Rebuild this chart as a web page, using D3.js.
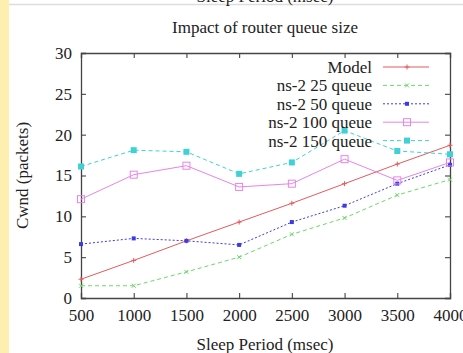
<!DOCTYPE html>
<html>
<head>
<meta charset="utf-8">
<script src="https://cdn.jsdelivr.net/npm/d3@7"></script>
<style>
  body { margin: 0; background: #fff; }
  svg text { font-family: "Liberation Serif", "DejaVu Serif", serif; fill: #222; }
</style>
</head>
<body>
<div id="chart"></div>
<script>
// sleep periods (msec)
const sleepPeriods = [500, 1000, 1500, 2000, 2500, 3000, 3500, 4000];
const yTicks = [0, 5, 10, 15, 20, 25, 30];

// cwnd values
const model    = [2.3, 4.6, 7.0, 9.3, 11.6, 14.0, 16.4, 18.7];
const queue25  = [1.5, 1.5, 3.2, 5.0, 7.8, 9.8, 12.6, 14.5];
const queue50  = [6.6, 7.3, 7.0, 6.5, 9.3, 11.3, 14.0, 16.3];
const queue100 = [12.1, 15.1, 16.2, 13.6, 14.0, 17.0, 14.4, 16.6];
const queue150 = [16.1, 18.1, 17.9, 15.2, 16.6, 20.5, 18.0, 17.6];

const series = [
  { name: "Model",           values: model,    color: "#e35b5e", dash: null,    marker: "plus" },
  { name: "ns-2 25 queue",   values: queue25,  color: "#6cd86c", dash: "4,3",   marker: "cross" },
  { name: "ns-2 50 queue",   values: queue50,  color: "#3b3be3", dash: "2,2",   marker: "dot" },
  { name: "ns-2 100 queue",  values: queue100, color: "#e884e8", dash: null,    marker: "box" },
  { name: "ns-2 150 queue",  values: queue150, color: "#3ed2d6", dash: "4,3",   marker: "fill" }
];

const W = 463, H = 353;
const FS = "17px";
const margin = { left: 81, right: 13, top: 53, bottom: 55 };

const svg = d3.select("#chart").append("svg")
  .attr("width", W).attr("height", H);

// yellow strip at the left and the cut-off header
svg.append("rect").attr("x", 0).attr("y", 0).attr("width", 9).attr("height", H).attr("fill", "#fdefaf");
svg.append("line").attr("x1", 9).attr("x2", W).attr("y1", 4.5).attr("y2", 4.5)
  .attr("stroke", "#ddd").attr("stroke-width", 1.5);
svg.append("text").attr("x", 265).attr("y", 2).attr("text-anchor", "middle")
  .style("font-size", FS).text("Sleep Period (msec)");

const x = d3.scaleLinear().domain([500, 4000]).range([margin.left, W - margin.right]);
const y = d3.scaleLinear().domain([0, 30]).range([H - margin.bottom, margin.top]);

const g = svg.append("g");

// axes with inward ticks
const axisColor = "#444";
const xAxisB = g.append("g").attr("transform", `translate(0,${y(0)})`)
  .call(d3.axisBottom(x).tickValues(sleepPeriods).tickSize(-5).tickPadding(10).tickFormat(d3.format("d")));
const xAxisT = g.append("g").attr("transform", `translate(0,${y(30)})`)
  .call(d3.axisTop(x).tickValues(sleepPeriods).tickSize(-5).tickFormat(""));
const yAxisL = g.append("g").attr("transform", `translate(${x(500)},0)`)
  .call(d3.axisLeft(y).tickValues(yTicks).tickSize(-5).tickPadding(9));
const yAxisR = g.append("g").attr("transform", `translate(${x(4000)},0)`)
  .call(d3.axisRight(y).tickValues(yTicks).tickSize(-5).tickFormat(""));

[xAxisB, xAxisT, yAxisL, yAxisR].forEach(a => {
  a.selectAll("path").attr("stroke", axisColor).attr("stroke-width", 1.3);
  a.selectAll("line").attr("stroke", axisColor).attr("stroke-width", 1.1);
  a.selectAll("text").style("font-size", FS).style("font-family", "Liberation Serif, serif").attr("fill", "#222");
});
xAxisB.selectAll("text").attr("dy", "0.75em");

// titles
svg.append("text").attr("x", 265).attr("y", 33).attr("text-anchor", "middle")
  .style("font-size", FS).text("Impact of router queue size");
svg.append("text").attr("x", 265).attr("y", 350).attr("text-anchor", "middle")
  .style("font-size", FS).text("Sleep Period (msec)");
svg.append("text").attr("transform", `translate(28,${(y(0) + y(30)) / 2}) rotate(-90)`)
  .attr("text-anchor", "middle").style("font-size", FS).text("Cwnd (packets)");

function drawMarker(sel, type, color) {
  if (type === "plus") {
    sel.append("path").attr("d", "M-2.5,0H2.5M0,-2.5V2.5").attr("stroke", color).attr("stroke-width", 1);
  } else if (type === "cross") {
    sel.append("path").attr("d", "M-2,-2L2,2M-2,2L2,-2").attr("stroke", color).attr("stroke-width", 1);
  } else if (type === "dot") {
    sel.append("rect").attr("x", -2).attr("y", -2).attr("width", 4).attr("height", 4).attr("fill", color);
  } else if (type === "box") {
    sel.append("rect").attr("x", -3.5).attr("y", -3.5).attr("width", 7).attr("height", 7)
      .attr("fill", "none").attr("stroke", color).attr("stroke-width", 1);
  } else if (type === "fill") {
    sel.append("rect").attr("x", -3).attr("y", -3).attr("width", 6).attr("height", 6).attr("fill", color);
  }
}

const line = d3.line().x((d, i) => x(sleepPeriods[i])).y(d => y(d));

series.forEach(s => {
  g.append("path").datum(s.values)
    .attr("fill", "none").attr("stroke", s.color).attr("stroke-width", 1)
    .attr("stroke-dasharray", s.dash)
    .attr("d", line);
  g.selectAll(null).data(s.values).enter().append("g")
    .attr("transform", (d, i) => `translate(${x(sleepPeriods[i])},${y(d)})`)
    .each(function () { drawMarker(d3.select(this), s.marker, s.color); });
});

// legend
const legend = g.append("g");
series.forEach((s, i) => {
  const ly = 67 + i * 18.4;
  legend.append("text").attr("x", 372).attr("y", ly).attr("dy", "0.35em")
    .attr("text-anchor", "end").style("font-size", FS).text(s.name);
  legend.append("line").attr("x1", 383).attr("x2", 429).attr("y1", ly).attr("y2", ly)
    .attr("stroke", s.color).attr("stroke-width", 1).attr("stroke-dasharray", s.dash);
  const m = legend.append("g").attr("transform", `translate(407,${ly})`);
  drawMarker(m, s.marker, s.color);
});
</script>
</body>
</html>
